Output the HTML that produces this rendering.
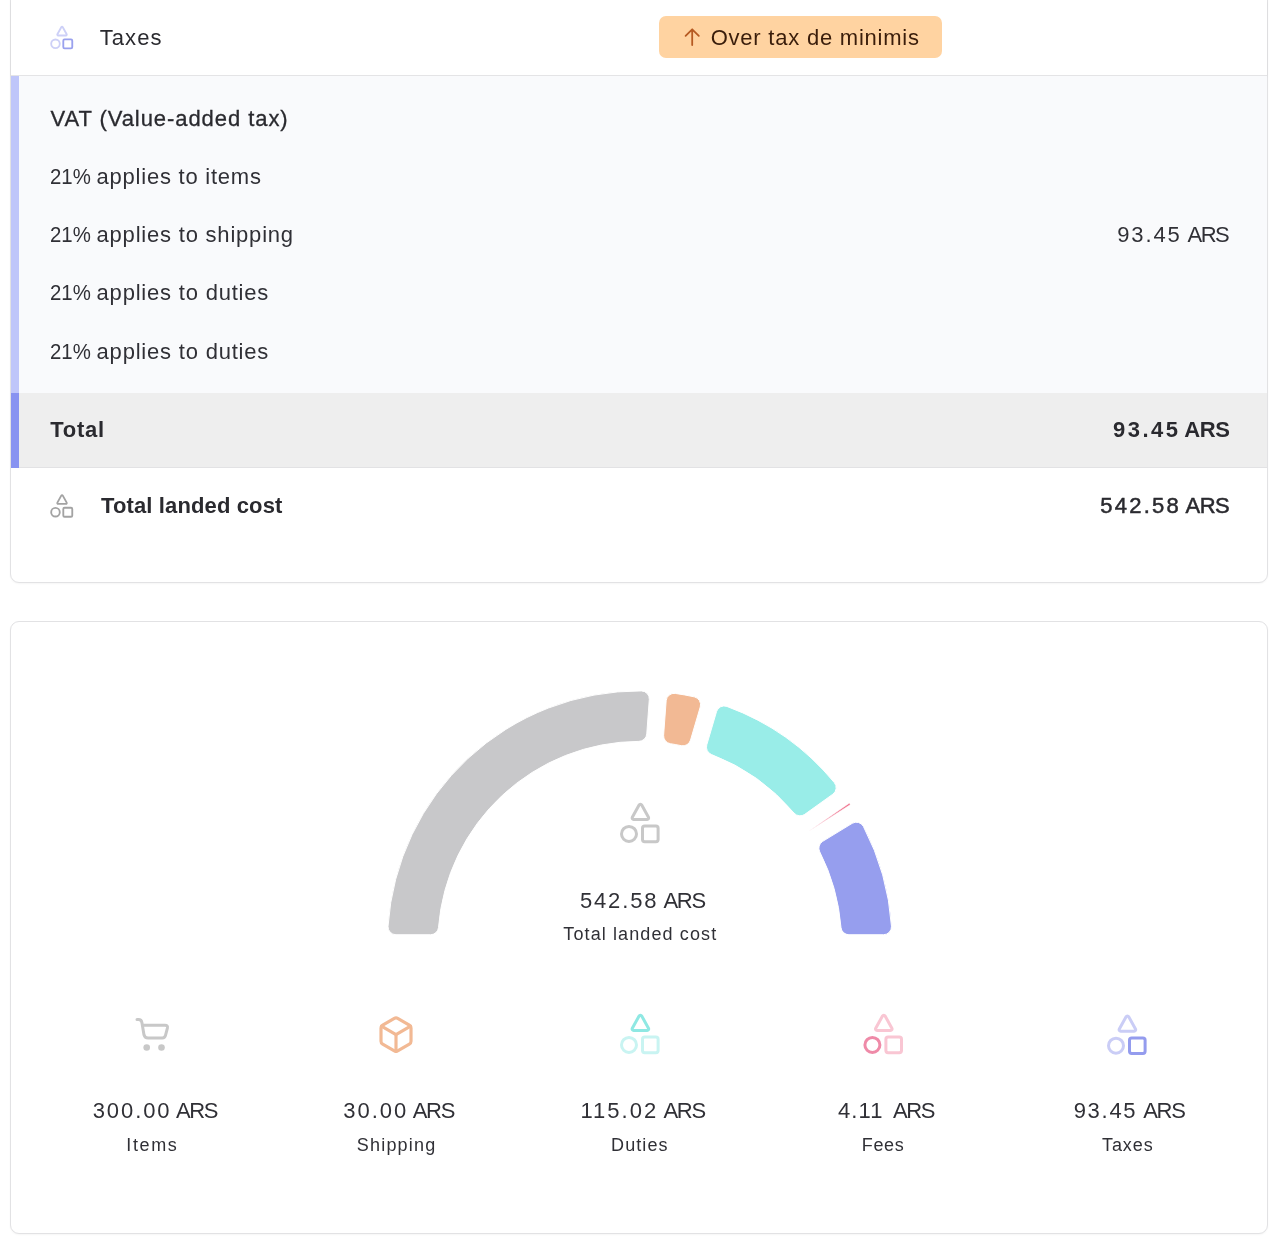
<!DOCTYPE html>
<html lang="en"><head><meta charset="utf-8"><title>Landed cost</title>
<style>
html,body{margin:0;padding:0;background:#fff;}
body{width:1280px;height:1247px;position:relative;overflow:hidden;font-family:"Liberation Sans",sans-serif;color:#2b2b30;}
.card{position:absolute;left:10px;width:1258px;box-sizing:border-box;border:1px solid #e2e2e4;background:#fff;box-shadow:0 1px 2px rgba(0,0,0,.04);}
#c1{top:-20px;height:603px;border-radius:9px;overflow:hidden;}
#c2{top:621px;height:613px;border-radius:9px;}
.abs{position:absolute;}
.t{position:absolute;white-space:nowrap;font-size:22px;line-height:26px;height:26px;}
.r{text-align:right;}
.c{text-align:center;}
.b{font-weight:bold;}
svg{position:absolute;left:0;top:0;}
</style></head><body>
<div class="card" id="c1"></div>
<div class="abs" style="left:11px;top:0;width:1256px;height:75px;background:#fff;border-bottom:1px solid #e4e4e6;box-shadow:0 1px 2px rgba(0,0,0,.05)"></div>
<div class="abs" style="left:11px;top:76px;width:1256px;height:317px;background:#f9fafc"></div>
<div class="abs" style="left:11px;top:76px;width:8px;height:317px;background:#bfc6fa"></div>
<div class="abs" style="left:11px;top:393px;width:1256px;height:74px;background:#eeeeee;border-bottom:1px solid #e2e2e4"></div>
<div class="abs" style="left:11px;top:393px;width:8px;height:75px;background:#8893f1"></div>
<div class="card" id="c2"></div>

<div class="abs" style="left:659px;top:16px;width:283px;height:42px;border-radius:7px;background:#ffd3a1"></div>

<div class="t" id="t_taxes" style="left:99.77px;top:25.00px;font-size:22px;letter-spacing:1.045px;color:#2a2a2f">Taxes</div>
<div class="t" id="t_badge" style="left:710.68px;top:25.00px;font-size:22px;letter-spacing:0.775px;color:#3a1d0b">Over tax de minimis</div>
<div class="t" id="t_vat" style="left:50.48px;top:106.00px;font-size:22px;letter-spacing:0.935px;color:#2a2a2f;-webkit-text-stroke:0.30px #2a2a2f">VAT (Value-added tax)</div>
<div class="t" id="t_r1a" style="left:49.84px;top:164.00px;font-size:22px;letter-spacing:0.000px;color:#303036;transform:scaleX(0.9270);transform-origin:0 0">21%</div>
<div class="t" id="t_r1b" style="left:96.57px;top:164.00px;font-size:22px;letter-spacing:0.769px;color:#303036">applies to items</div>
<div class="t" id="t_r2a" style="left:49.84px;top:222.00px;font-size:22px;letter-spacing:0.000px;color:#303036;transform:scaleX(0.9270);transform-origin:0 0">21%</div>
<div class="t" id="t_r2b" style="left:96.57px;top:222.00px;font-size:22px;letter-spacing:0.793px;color:#303036">applies to shipping</div>
<div class="t" id="t_r3a" style="left:49.84px;top:280.00px;font-size:22px;letter-spacing:0.000px;color:#303036;transform:scaleX(0.9270);transform-origin:0 0">21%</div>
<div class="t" id="t_r3b" style="left:96.57px;top:280.00px;font-size:22px;letter-spacing:0.799px;color:#303036">applies to duties</div>
<div class="t" id="t_r4a" style="left:49.84px;top:339.00px;font-size:22px;letter-spacing:0.000px;color:#303036;transform:scaleX(0.9270);transform-origin:0 0">21%</div>
<div class="t" id="t_r4b" style="left:96.57px;top:339.00px;font-size:22px;letter-spacing:0.799px;color:#303036">applies to duties</div>
<div class="t" id="t_v1a" style="left:1117.17px;top:222.00px;font-size:22px;letter-spacing:1.899px;color:#303036">93.45</div>
<div class="t" id="t_v1b" style="left:1187.43px;top:222.00px;font-size:22px;letter-spacing:-1.441px;color:#303036">ARS</div>
<div class="t b" id="t_total" style="left:50.28px;top:417.00px;font-size:22px;letter-spacing:0.738px;color:#2a2a2f">Total</div>
<div class="t b" id="t_v2a" style="left:1112.98px;top:417.00px;font-size:22px;letter-spacing:2.506px;color:#2a2a2f">93.45</div>
<div class="t b" id="t_v2b" style="left:1184.19px;top:417.00px;font-size:22px;letter-spacing:-0.305px;color:#2a2a2f">ARS</div>
<div class="t b" id="t_tlc" style="left:101.02px;top:493.00px;font-size:22px;letter-spacing:0.130px;color:#2a2a2f">Total landed cost</div>
<div class="t" id="t_v3a" style="left:1100.13px;top:493.00px;font-size:22px;letter-spacing:2.265px;color:#2a2a2f;-webkit-text-stroke:0.50px #2a2a2f">542.58</div>
<div class="t" id="t_v3b" style="left:1185.59px;top:493.00px;font-size:22px;letter-spacing:-0.609px;color:#2a2a2f;-webkit-text-stroke:0.50px #2a2a2f">ARS</div>
<div class="t" id="t_g1a" style="left:579.97px;top:888.00px;font-size:22px;letter-spacing:1.835px;color:#303036">542.58</div>
<div class="t" id="t_g1b" style="left:663.47px;top:888.00px;font-size:22px;letter-spacing:-1.297px;color:#303036">ARS</div>
<div class="t" id="t_g2" style="left:563.31px;top:921.00px;font-size:18px;letter-spacing:1.114px;color:#303036">Total landed cost</div>
<div class="t" id="t_a1a" style="left:92.74px;top:1098.00px;font-size:22px;letter-spacing:1.901px;color:#303036">300.00</div>
<div class="t" id="t_a1b" style="left:176.00px;top:1098.00px;font-size:22px;letter-spacing:-1.387px;color:#303036">ARS</div>
<div class="t" id="t_b1" style="left:126.35px;top:1132.00px;font-size:18px;letter-spacing:1.622px;color:#303036">Items</div>
<div class="t" id="t_a2a" style="left:343.23px;top:1098.00px;font-size:22px;letter-spacing:2.014px;color:#303036">30.00</div>
<div class="t" id="t_a2b" style="left:412.64px;top:1098.00px;font-size:22px;letter-spacing:-1.201px;color:#303036">ARS</div>
<div class="t" id="t_b2" style="left:356.78px;top:1132.00px;font-size:18px;letter-spacing:1.201px;color:#303036">Shipping</div>
<div class="t" id="t_a3a" style="left:580.51px;top:1098.00px;font-size:22px;letter-spacing:1.997px;color:#303036">115.02</div>
<div class="t" id="t_a3b" style="left:663.47px;top:1098.00px;font-size:22px;letter-spacing:-1.297px;color:#303036">ARS</div>
<div class="t" id="t_b3" style="left:611.07px;top:1132.00px;font-size:18px;letter-spacing:1.094px;color:#303036">Duties</div>
<div class="t" id="t_a4a" style="left:838.02px;top:1098.00px;font-size:22px;letter-spacing:1.108px;color:#303036">4.11</div>
<div class="t" id="t_a4b" style="left:892.92px;top:1098.00px;font-size:22px;letter-spacing:-1.376px;color:#303036">ARS</div>
<div class="t" id="t_b4" style="left:861.82px;top:1132.00px;font-size:18px;letter-spacing:0.637px;color:#303036">Fees</div>
<div class="t" id="t_a5a" style="left:1073.66px;top:1098.00px;font-size:22px;letter-spacing:1.724px;color:#303036">93.45</div>
<div class="t" id="t_a5b" style="left:1143.26px;top:1098.00px;font-size:22px;letter-spacing:-1.333px;color:#303036">ARS</div>
<div class="t" id="t_b5" style="left:1102.06px;top:1132.00px;font-size:18px;letter-spacing:0.890px;color:#303036">Taxes</div>

<svg width="1280" height="1247" viewBox="0 0 1280 1247">
<g id="gauge">
<path d="M396 934.74A8 8 0 0 1 388.02 926.2A252.3 252.3 0 0 1 641.37 690.91A8 8 0 0 1 649.3 699.5L646.75 733.95A8 8 0 0 1 638.81 741.36A201.84 201.84 0 0 0 438.53 927.37A8 8 0 0 1 430.56 934.74Z" fill="#c8c8ca" stroke="#fff" stroke-width="1"/>
<path d="M666.17 700.74A8 8 0 0 1 675.27 693.41A252.3 252.3 0 0 1 694.32 696.87A8 8 0 0 1 700.27 706.94L690.54 740.09A8 8 0 0 1 681.22 745.67A201.84 201.84 0 0 0 670.38 743.7A8 8 0 0 1 663.62 735.2Z" fill="#f2b994" stroke="#fff" stroke-width="1"/>
<path d="M716.5 711.7A8 8 0 0 1 726.94 706.44A252.3 252.3 0 0 1 834.34 782.61A8 8 0 0 1 832.84 794.2L804.77 814.35A8 8 0 0 1 793.99 813.01A201.84 201.84 0 0 0 711.6 754.58A8 8 0 0 1 706.77 744.85Z" fill="#99ede8" stroke="#fff" stroke-width="1"/>
<path d="M848.8 803.55A0.88 0.88 0 1 1 849.77 805.02L807.98 831.67Z" fill="#f0708c" stroke="#fff" stroke-width="0.55"/>
<path d="M852.17 823.36A8 8 0 0 1 863.43 826.48A252.3 252.3 0 0 1 891.48 926.2A8 8 0 0 1 883.5 934.74L848.94 934.74A8 8 0 0 1 840.97 927.37A201.84 201.84 0 0 0 819.72 851.82A8 8 0 0 1 822.68 841.37Z" fill="#969eee" stroke="#fff" stroke-width="1"/>
</g>
<g id="icons">
<g fill="none" stroke="#c8c8c8" stroke-width="3" stroke-linecap="round" stroke-linejoin="round"><path d="M137 1019.6H138.6Q141.3 1019.7 141.9 1022.5L144 1034.9Q144.8 1038 148 1038H162.4Q164.8 1038 165.5 1035.4L167.4 1028.2Q168.1 1025.2 165 1025.2H142.8"/><circle cx="146.7" cy="1047.5" r="3.3" fill="#c8c8c8" stroke="none"/><circle cx="161.5" cy="1047.5" r="3.3" fill="#c8c8c8" stroke="none"/></g><g transform="translate(376 1014.6) scale(1.667)" fill="none" stroke="#f2b994" stroke-width="1.9" stroke-linecap="round" stroke-linejoin="round"><path d="M21 16V8a2 2 0 0 0-1-1.73l-7-4a2 2 0 0 0-2 0l-7 4A2 2 0 0 0 3 8v8a2 2 0 0 0 1 1.73l7 4a2 2 0 0 0 2 0l7-4A2 2 0 0 0 21 16z"/><path d="M3.27 6.96 12 12.01l8.73-5.05"/><path d="M12 22.08V12"/></g><g fill="none" stroke-width="3" stroke-linejoin="round" stroke-linecap="round"><path d="M639.09 1015.99A1.50 1.50 0 0 1 641.71 1015.99L648.48 1028.28A1.50 1.50 0 0 1 647.16 1030.50L633.64 1030.50A1.50 1.50 0 0 1 632.32 1028.28Z" stroke="#8fe8e3"/><circle cx="629.00" cy="1044.90" r="7.50" stroke="#c9f4f2"/><rect x="642.50" y="1037.10" width="15.6" height="15.6" rx="2.2" stroke="#c9f4f2"/></g><g fill="none" stroke-width="3" stroke-linejoin="round" stroke-linecap="round"><path d="M882.49 1015.99A1.50 1.50 0 0 1 885.11 1015.99L891.88 1028.28A1.50 1.50 0 0 1 890.56 1030.50L877.04 1030.50A1.50 1.50 0 0 1 875.72 1028.28Z" stroke="#f9c6d3"/><circle cx="872.40" cy="1044.90" r="7.50" stroke="#ef8aa8"/><rect x="885.90" y="1037.10" width="15.6" height="15.6" rx="2.2" stroke="#f9c6d3"/></g><g fill="none" stroke-width="3" stroke-linejoin="round" stroke-linecap="round"><path d="M1126.09 1016.79A1.50 1.50 0 0 1 1128.71 1016.79L1135.48 1029.08A1.50 1.50 0 0 1 1134.16 1031.30L1120.64 1031.30A1.50 1.50 0 0 1 1119.32 1029.08Z" stroke="#cacdf6"/><circle cx="1116.00" cy="1045.70" r="7.50" stroke="#cacdf6"/><rect x="1129.50" y="1037.90" width="15.6" height="15.6" rx="2.2" stroke="#949cee"/></g><g fill="none" stroke-width="3" stroke-linejoin="round" stroke-linecap="round"><path d="M639.09 804.99A1.50 1.50 0 0 1 641.71 804.99L648.48 817.28A1.50 1.50 0 0 1 647.16 819.50L633.64 819.50A1.50 1.50 0 0 1 632.32 817.28Z" stroke="#c8c8c8"/><circle cx="629.00" cy="833.90" r="7.50" stroke="#c8c8c8"/><rect x="642.50" y="826.10" width="15.6" height="15.6" rx="2.2" stroke="#c8c8c8"/></g>
<g transform="translate(61.80 25.70) scale(0.575)"><g fill="none" stroke-width="3.2" stroke-linejoin="round" stroke-linecap="round"><path d="M-0.91 2.59A1.50 1.50 0 0 1 1.71 2.59L8.48 14.88A1.50 1.50 0 0 1 7.16 17.10L-6.36 17.10A1.50 1.50 0 0 1 -7.68 14.88Z" stroke="#cdd0f7"/><circle cx="-11.00" cy="31.50" r="7.50" stroke="#cdd0f7"/><rect x="2.60" y="23.80" width="15.6" height="15.6" rx="2.2" stroke="#9aa1ee"/></g></g><g transform="translate(61.80 494.10) scale(0.575)"><g fill="none" stroke-width="3.2" stroke-linejoin="round" stroke-linecap="round"><path d="M-0.91 2.59A1.50 1.50 0 0 1 1.71 2.59L8.48 14.88A1.50 1.50 0 0 1 7.16 17.10L-6.36 17.10A1.50 1.50 0 0 1 -7.68 14.88Z" stroke="#a3a3a3"/><circle cx="-11.00" cy="31.50" r="7.50" stroke="#a3a3a3"/><rect x="2.60" y="23.80" width="15.6" height="15.6" rx="2.2" stroke="#a3a3a3"/></g></g>
<path d="M692.2 45V29.3M685.6 35.9l6.6-6.6 6.6 6.6" fill="none" stroke="#b65a22" stroke-width="1.8" stroke-linecap="round" stroke-linejoin="round"/>
</g>
</svg>
</body></html>
